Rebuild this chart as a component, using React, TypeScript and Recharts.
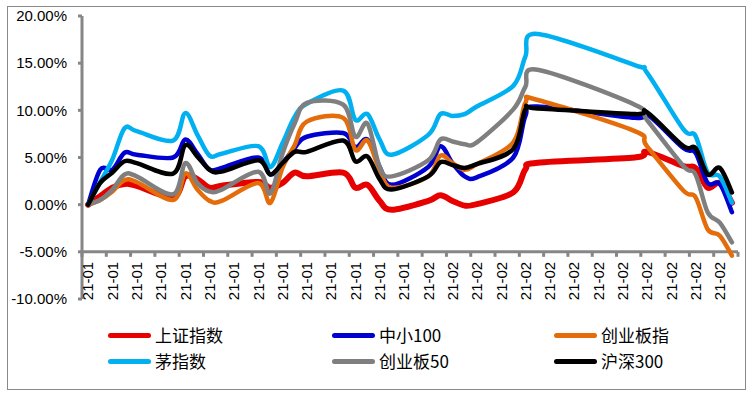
import React from 'react';
import { LineChart, Line, XAxis, YAxis, ReferenceLine, Legend } from 'recharts';

// Trading dates (2021)
const dates = [
  '2021-01-04', '2021-01-05', '2021-01-06', '2021-01-07', '2021-01-08',
  '2021-01-11', '2021-01-12', '2021-01-13', '2021-01-14', '2021-01-15',
  '2021-01-18', '2021-01-19', '2021-01-20', '2021-01-21', '2021-01-22',
  '2021-01-25', '2021-01-26', '2021-01-27', '2021-01-28', '2021-01-29',
  '2021-02-01', '2021-02-02', '2021-02-03', '2021-02-04', '2021-02-05',
  '2021-02-08', '2021-02-09', '2021-02-10', '2021-02-18', '2021-02-19',
  '2021-02-22', '2021-02-23', '2021-02-24', '2021-02-25', '2021-02-26',
];

// cumulative returns, %
const shangzheng = [0, 0.9, 1.8, 2.2, 2.0, 0.8, 3.0, 2.7, 1.8, 2.0, 2.4, 1.8, 2.3, 3.4, 3.0, 3.4, 1.8, 2.1, 0.4, -0.55, 0.4, 1.0, 0.4, -0.1, 0.05, 1.3, 3.75, 4.45, 5.0, 5.6, 4.1, 3.9, 1.8, 2.3, 0.2];
const zhongxiao100 = [0, 3.7, 3.7, 5.5, 5.3, 5.0, 6.9, 5.4, 3.7, 3.9, 5.0, 3.2, 4.4, 6.0, 7.2, 7.6, 6.1, 6.9, 4.0, 2.1, 4.0, 6.2, 4.4, 3.0, 2.9, 5.0, 9.4, 10.4, 9.2, 9.6, 6.0, 5.5, 2.3, 2.2, -0.8];
const chuangyeban = [0, 0.5, 1.4, 2.6, 2.4, 0.5, 3.3, 1.6, 0.4, 0.4, 2.3, 0.2, 3.9, 6.3, 8.8, 9.2, 5.8, 6.8, 3.7, 1.8, 3.0, 5.2, 4.4, 3.7, 4.3, 6.6, 10.8, 11.1, 7.8, 6.2, 1.5, 0.8, -2.6, -3.3, -5.4];
const maozhishu = [0, 2.4, 4.8, 8.1, 7.8, 6.8, 9.7, 7.4, 5.2, 5.4, 6.2, 4.0, 6.5, 9.3, 10.7, 12.1, 9.0, 9.6, 6.9, 5.3, 7.4, 9.6, 9.4, 9.6, 10.4, 12.6, 15.7, 18.1, 14.8, 14.0, 8.0, 7.3, 3.4, 3.0, 0.2];
const chuangye50 = [0, 0.5, 1.6, 3.2, 3.0, 1.1, 4.4, 2.3, 1.4, 1.6, 3.5, 1.2, 5.4, 8.6, 10.8, 10.6, 7.2, 8.6, 4.0, 3.0, 4.7, 6.9, 6.7, 6.4, 6.6, 10.1, 12.5, 14.3, 10.6, 9.0, 4.1, 3.2, -0.8, -1.9, -4.0];
const hushen300 = [0, 2.3, 3.4, 4.6, 4.4, 3.3, 6.3, 5.1, 3.7, 3.5, 4.7, 3.2, 4.4, 5.6, 5.6, 6.8, 4.6, 5.1, 2.7, 1.6, 3.0, 4.5, 4.2, 3.9, 4.3, 5.9, 10.1, 10.2, 9.6, 9.8, 6.2, 6.0, 3.2, 3.9, 1.3];

const seriesNames = ['上证指数', '中小100', '创业板指', '茅指数', '创业板50', '沪深300'];
const seriesKeys = ['sh', 'zx', 'cyb', 'mao', 'cyb50', 'hs'];
const seriesValues = [shangzheng, zhongxiao100, chuangyeban, maozhishu, chuangye50, hushen300];
const seriesColors = ['#E60000', '#0000D0', '#E46C0A', '#00B0F0', '#7F7F7F', '#000000'];
const seriesWidths = [6, 4.5, 4.5, 4.5, 4.5, 4.5];

// X tick labels, one every two calendar days starting 2021-01-04
const tickLabels = [
  '21-01', '21-01', '21-01', '21-01', '21-01', '21-01', '21-01',
  '21-01', '21-01', '21-01', '21-01', '21-01', '21-01', '21-01',
  '21-02', '21-02', '21-02', '21-02', '21-02', '21-02', '21-02',
  '21-02', '21-02', '21-02', '21-02', '21-02', '21-02',
];
const yTicks = [-10, -5, 0, 5, 10, 15, 20];

const DAY = 86400000;
const start = Date.UTC(2021, 0, 4);
const dayOf = (s: string) => {
  const [y, m, d] = s.split('-').map(Number);
  return Math.round((Date.UTC(y, m - 1, d) - start) / DAY);
};

const data = dates.map((d, i) => {
  const row: any = { day: dayOf(d) };
  seriesKeys.forEach((k, j) => { row[k] = seriesValues[j][i]; });
  return row;
});

// tick boundaries between day slots
const xTicks: number[] = [];
for (let i = 0; i <= 27; i++) xTicks.push(-0.5 + 2 * i);

// layout
const W = 751;
const H = 393;
const M = { top: 16, right: 13, left: 0, bottom: 64 };
const Y_W = 82;
const X_H = 30;
const PLOT_H = H - M.top - M.bottom - X_H;
const PLOT_W = W - M.left - M.right - Y_W;
const X_DOMAIN: [number, number] = [-0.5, 53.5];
const Y_DOMAIN: [number, number] = [-10, 20];
const AXIS_CROSS = -5;
const crossOffset = ((AXIS_CROSS - Y_DOMAIN[0]) / (Y_DOMAIN[1] - Y_DOMAIN[0])) * PLOT_H;
const halfDay = PLOT_W / (X_DOMAIN[1] - X_DOMAIN[0]) / 2;
const AXIS_COLOR = '#868686';

// Excel-like smoothed curve (Catmull-Rom as cubic Bezier)
const smoothCurve: any = (context: any) => {
  let pts: number[][] = [];
  return {
    areaStart() {},
    areaEnd() {},
    lineStart() { pts = []; },
    lineEnd() {
      const n = pts.length;
      if (!n) return;
      context.moveTo(pts[0][0], pts[0][1]);
      for (let i = 0; i < n - 1; i++) {
        const p0 = pts[Math.max(i - 1, 0)];
        const p1 = pts[i];
        const p2 = pts[i + 1];
        const p3 = pts[Math.min(i + 2, n - 1)];
        const t = 1 / 6;
        context.bezierCurveTo(
          p1[0] + (p2[0] - p0[0]) * t, p1[1] + (p2[1] - p0[1]) * t,
          p2[0] - (p3[0] - p1[0]) * t, p2[1] - (p3[1] - p1[1]) * t,
          p2[0], p2[1],
        );
      }
    },
    point(x: number, y: number) { pts.push([+x, +y]); },
  };
};

const XTick = (props: any) => {
  const { x, y, payload, index } = props;
  const lineY = y - crossOffset - 8;
  const label = tickLabels[index];
  const lx = x + halfDay;
  return (
    <g>
      <line x1={x} x2={x} y1={lineY} y2={lineY + 5} stroke={AXIS_COLOR} strokeWidth={3} />
      {label && payload.value + 0.5 <= 52 ? (
        <text
          transform={`translate(${lx},${lineY + 10}) rotate(-90)`}
          x={0}
          y={0}
          dy="0.36em"
          textAnchor="end"
          fontSize={15}
          fontFamily="'Liberation Sans', Arial, sans-serif"
          fill="#000"
        >
          {label}
        </text>
      ) : null}
    </g>
  );
};

const LegendContent = (props: any) => {
  const { payload = [] } = props;
  const ordered = [...payload].sort(
    (a: any, b: any) => seriesNames.indexOf(a.value) - seriesNames.indexOf(b.value),
  );
  return (
    <div
      style={{
        display: 'grid',
        gridTemplateColumns: '224px 222px 160px',
        fontFamily: "'Noto Sans CJK SC', 'Noto Sans', sans-serif",
        fontSize: 17,
        color: '#000',
      }}
    >
      {ordered.map((p: any) => (
        <div key={p.value} style={{ display: 'flex', alignItems: 'center', height: 26 }}>
          <span
            style={{
              display: 'inline-block',
              width: 43,
              height: 5,
              borderRadius: 3,
              background: p.color,
              marginRight: 4,
            }}
          />
          <span style={{ lineHeight: '26px' }}>{p.value}</span>
        </div>
      ))}
    </div>
  );
};

export default function App() {
  return (
    <div style={{ position: 'absolute', left: 0, top: 0, width: W, height: H, background: '#fff' }}>
      <div
        style={{
          position: 'absolute',
          left: 7,
          top: 6,
          width: 739,
          height: 384,
          boxSizing: 'border-box',
          border: '1px solid #898989',
        }}
      />
      <div style={{ position: 'absolute', left: 0, top: 0 }}>
        <LineChart width={W} height={H} data={data} margin={M}>
          <YAxis
            type="number"
            domain={Y_DOMAIN}
            ticks={yTicks}
            interval={0}
            width={Y_W}
            allowDataOverflow
            tickFormatter={(v: number) => `${v.toFixed(2)}%`}
            axisLine={{ stroke: AXIS_COLOR, strokeWidth: 3 }}
            tickLine={{ stroke: AXIS_COLOR, strokeWidth: 3 }}
            tickSize={4}
            tickMargin={11}
            tick={{ fontSize: 15, fill: '#000', fontFamily: "'Liberation Sans', Arial, sans-serif" }}
          />
          <XAxis
            dataKey="day"
            type="number"
            domain={X_DOMAIN}
            ticks={xTicks}
            interval={0}
            height={X_H}
            axisLine={false}
            tickLine={false}
            tick={<XTick />}
            allowDataOverflow
          />
          <ReferenceLine y={AXIS_CROSS} stroke={AXIS_COLOR} strokeWidth={3} />
          {seriesKeys.map((k, j) => (
            <Line
              key={k}
              dataKey={k}
              name={seriesNames[j]}
              type={smoothCurve}
              stroke={seriesColors[j]}
              strokeWidth={seriesWidths[j]}
              strokeLinecap="round"
              strokeLinejoin="round"
              dot={false}
              activeDot={false}
              isAnimationActive={false}
            />
          ))}
          <Legend
            layout="vertical"
            align="center"
            verticalAlign="middle"
            content={<LegendContent />}
            wrapperStyle={{ position: 'absolute', left: 108, top: 322, width: 620, height: 52 }}
          />
        </LineChart>
      </div>
    </div>
  );
}
